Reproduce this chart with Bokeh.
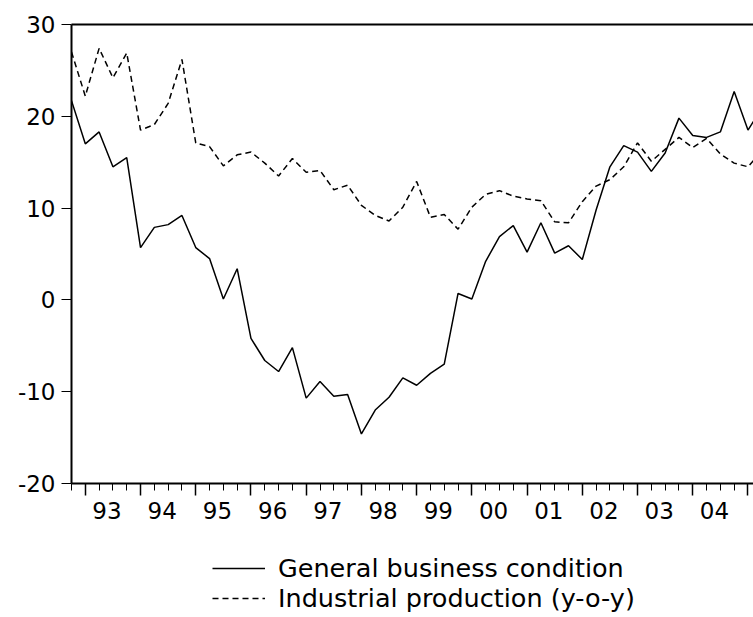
from bokeh.plotting import figure
from bokeh.layouts import column
from bokeh.models import Range1d, LinearAxis, FixedTicker, Legend, LegendItem, ColumnDataSource
from bokeh.embed import file_html
from bokeh.resources import INLINE

# ---- data ----
periods = ["1992Q4"] + [f"{y}Q{q}" for y in range(1993, 2005) for q in range(1, 5)] + ["2005Q1", "2005Q2"]

general = [21.7, 17.0, 18.3, 14.5, 15.5, 5.7, 7.9, 8.2, 9.2, 5.7,
           4.5, 0.1, 3.4, -4.2, -6.6, -7.8, -5.2, -10.7, -8.9, -10.5,
           -10.3, -14.6, -12.0, -10.6, -8.5, -9.3, -8.0, -7.0, 0.7, 0.1,
           4.2, 6.9, 8.1, 5.2, 8.4, 5.1, 5.9, 4.4, 9.8, 14.5,
           16.8, 16.1, 14.0, 16.0, 19.8, 17.9, 17.7, 18.3, 22.7, 18.5, 20.9]

industrial = [27.0, 22.2, 27.4, 24.2, 26.9, 18.5, 19.1, 21.4, 26.2, 17.1,
              16.7, 14.6, 15.8, 16.1, 14.9, 13.5, 15.4, 13.9, 14.1, 12.0,
              12.5, 10.3, 9.2, 8.6, 10.1, 12.9, 9.0, 9.3, 7.7, 10.1,
              11.5, 11.9, 11.3, 11.0, 10.8, 8.5, 8.4, 10.7, 12.4, 13.1,
              14.5, 17.1, 15.1, 16.4, 17.7, 16.6, 17.6, 15.9, 14.9, 14.5, 16.2]

year_labels = ["93", "94", "95", "96", "97", "98", "99", "00", "01", "02", "03", "04"]
y_ticks = [-20, -10, 0, 10, 20, 30]
y_tick_labels = ["-20", "-10", "0", "10", "20", "30"]
series_names = ["General business condition", "Industrial production (y-o-y)"]

# ---- derived positions ----
x = list(range(len(periods)))
year_starts = [i for i, per in enumerate(periods) if per.endswith("Q1")]
label_pos = [round(s + 1.57, 2) for s in year_starts[:len(year_labels)]]

src = ColumnDataSource(dict(x=x, g=general, ip=industrial))

FONT = "DejaVu Sans"
SOLID = dict(line_color="black", line_width=1.5)
DASHED = dict(line_color="black", line_width=1.5, line_dash="6 4")

p = figure(width=753, height=530, output_backend="svg", toolbar_location=None,
           x_range=Range1d(0, 49.4), y_range=Range1d(-20, 30),
           x_axis_type=None, y_axis_type=None,
           min_border_left=71, min_border_right=0, min_border_top=24, min_border_bottom=47)
p.outline_line_color = None
p.background_fill_color = "white"
p.border_fill_color = "white"

yax = LinearAxis(ticker=FixedTicker(ticks=y_ticks, minor_ticks=[]),
                 axis_line_width=2, axis_line_color="black",
                 major_tick_in=0, major_tick_out=10, major_tick_line_width=1,
                 minor_tick_in=0, minor_tick_out=0,
                 major_label_overrides=dict(zip(y_ticks, y_tick_labels)),
                 major_label_text_font=FONT, major_label_text_font_size="23px",
                 major_label_text_color="black", major_label_standoff=6)
p.add_layout(yax, "left")

xax1 = LinearAxis(ticker=FixedTicker(ticks=year_starts, minor_ticks=x),
                  axis_line_width=2, axis_line_color="black",
                  major_tick_in=0, major_tick_out=12, major_tick_line_width=1.5,
                  minor_tick_in=0, minor_tick_out=7, minor_tick_line_width=1,
                  major_label_text_font_size="1px", major_label_text_alpha=0,
                  major_label_standoff=0)
p.add_layout(xax1, "below")

xax2 = LinearAxis(ticker=FixedTicker(ticks=label_pos, minor_ticks=[]),
                  axis_line_color=None, major_tick_line_color=None, minor_tick_line_color=None,
                  major_tick_in=0, major_tick_out=0, minor_tick_in=0, minor_tick_out=0,
                  major_label_overrides=dict(zip(label_pos, year_labels)),
                  major_label_text_font=FONT, major_label_text_font_size="23px",
                  major_label_text_color="black", major_label_standoff=6)
p.add_layout(xax2, "below")

xtop = LinearAxis(ticker=FixedTicker(ticks=[], minor_ticks=[]),
                  axis_line_width=2, axis_line_color="black",
                  major_tick_in=0, major_tick_out=0, minor_tick_in=0, minor_tick_out=0,
                  major_label_text_font_size="1px", major_label_standoff=0)
p.add_layout(xtop, "above")

p.line("x", "g", source=src, **SOLID)
p.line("x", "ip", source=src, **DASHED)

# ---- legend panel below the chart (its frame is aligned with the chart's frame) ----
p2 = figure(width=753, height=87, output_backend="svg", toolbar_location=None,
            x_range=Range1d(-1000, -999), y_range=Range1d(-1000, -999),
            x_axis_type=None, y_axis_type=None, min_border=0)
p2.outline_line_color = None
p2.background_fill_color = "white"
p2.border_fill_color = "white"
k1 = p2.line("x", "g", source=src, **SOLID)
k2 = p2.line("x", "ip", source=src, **DASHED)

LEG = dict(orientation="vertical", glyph_width=53, glyph_height=24, label_height=24,
           spacing=0, padding=0, margin=0, label_standoff=13,
           label_text_font=FONT, label_text_font_size="25.5px", label_text_color="black",
           border_line_color=None, background_fill_alpha=0)
leg1 = Legend(items=[LegendItem(label=series_names[0], renderers=[k1])], location=(141, 34), **LEG)
leg2 = Legend(items=[LegendItem(label=series_names[1], renderers=[k2])], location=(141, 4), **LEG)
p2.add_layout(leg1)
p2.add_layout(leg2)

layout = column(p, p2, spacing=0)
open("out.html", "w").write(file_html(layout, INLINE))
